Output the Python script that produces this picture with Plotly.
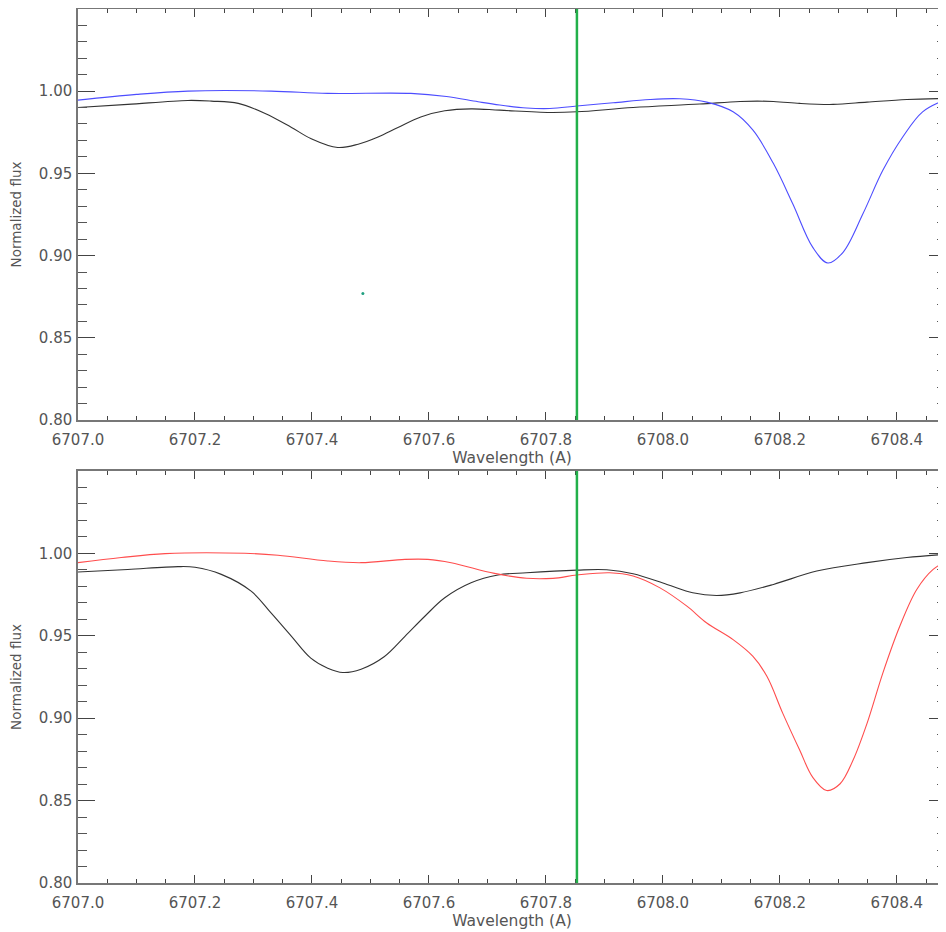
import plotly.graph_objects as go

# ---- data ----
wl_top_black = [6707.0, 6707.085, 6707.188, 6707.228, 6707.274, 6707.32, 6707.365, 6707.398,
                6707.444, 6707.479, 6707.513, 6707.547, 6707.586, 6707.627, 6707.672, 6707.721,
                6707.807, 6707.853, 6707.949, 6708.063, 6708.132, 6708.189, 6708.234, 6708.291,
                6708.349, 6708.417, 6708.484]
flux_top_black = [0.990, 0.9919, 0.9943, 0.9939, 0.9925, 0.9864, 0.9779, 0.9712,
                  0.9657, 0.9677, 0.9721, 0.9779, 0.9843, 0.988, 0.9892, 0.9884,
                  0.987, 0.9874, 0.990, 0.9921, 0.9937, 0.9937, 0.9925, 0.9919,
                  0.9933, 0.9949, 0.9955]

wl_top_blue = [6707.0, 6707.1, 6707.188, 6707.33, 6707.427, 6707.569, 6707.63, 6707.684, 6707.721,
               6707.767, 6707.807, 6707.853, 6707.915, 6707.978, 6708.029, 6708.075, 6708.12,
               6708.154, 6708.189, 6708.222, 6708.256, 6708.282, 6708.308, 6708.342, 6708.376,
               6708.41, 6708.444, 6708.484]
flux_top_blue = [0.9945, 0.9980, 1.000, 1.000, 0.9986, 0.9986, 0.9967, 0.9935, 0.9915,
                 0.9897, 0.9894, 0.9909, 0.9929, 0.9949, 0.9953, 0.9933, 0.9874,
                 0.9762, 0.9559, 0.9315, 0.9051, 0.8955, 0.902, 0.9254, 0.9518,
                 0.9721, 0.9874, 0.9949]

wl_bot_black = [6707.0, 6707.085, 6707.171, 6707.2, 6707.245, 6707.296, 6707.33, 6707.365,
                6707.398, 6707.427, 6707.453, 6707.484, 6707.524, 6707.559, 6707.593, 6707.627,
                6707.672, 6707.718, 6707.767, 6707.853, 6707.904, 6707.949, 6708.007, 6708.051,
                6708.092, 6708.132, 6708.189, 6708.263, 6708.349, 6708.417, 6708.484]
flux_bot_black = [0.9886, 0.9902, 0.9919, 0.9915, 0.9872, 0.977, 0.9638, 0.9496,
                  0.9364, 0.9303, 0.9277, 0.9297, 0.9374, 0.9496, 0.9618, 0.973,
                  0.9821, 0.9868, 0.9882, 0.9898, 0.990, 0.9876, 0.9811, 0.976,
                  0.9744, 0.976, 0.9811, 0.9892, 0.9943, 0.9974, 0.9994]

wl_bot_red = [6707.0, 6707.074, 6707.149, 6707.285, 6707.342, 6707.427, 6707.484, 6707.559,
              6707.598, 6707.638, 6707.712, 6707.767, 6707.812, 6707.853, 6707.909, 6707.949,
              6707.995, 6708.041, 6708.075, 6708.12, 6708.154, 6708.178, 6708.205, 6708.234,
              6708.256, 6708.28, 6708.303, 6708.325, 6708.349, 6708.376, 6708.405, 6708.434,
              6708.462, 6708.484]
flux_bot_red = [0.9943, 0.9974, 0.9998, 1.000, 0.9988, 0.9953, 0.9943, 0.9963,
                0.9963, 0.9943, 0.9878, 0.9848, 0.9848, 0.9868, 0.9882, 0.9862,
                0.979, 0.9679, 0.9577, 0.9476, 0.9374, 0.9252, 0.9029, 0.8805,
                0.8642, 0.8561, 0.8602, 0.8744, 0.8968, 0.9273, 0.9557, 0.978,
                0.9902, 0.9949]

li_wavelength = 6707.853
stray_point = (6707.487, 0.877)

x_range = [6707.0, 6708.484]
y_range = [0.80, 1.0499]

# ---- figure ----
fig = go.Figure()
line_common = dict(width=1.1, shape="spline", smoothing=1.0)
fig.add_trace(go.Scatter(x=wl_top_black, y=flux_top_black, mode="lines",
                         line=dict(line_common, color="#333333"), xaxis="x", yaxis="y"))
fig.add_trace(go.Scatter(x=wl_top_blue, y=flux_top_blue, mode="lines",
                         line=dict(line_common, color="#4d4dff"), xaxis="x", yaxis="y"))
fig.add_trace(go.Scatter(x=[stray_point[0]], y=[stray_point[1]], mode="markers",
                         marker=dict(color="#20a080", size=3), xaxis="x", yaxis="y"))
fig.add_trace(go.Scatter(x=wl_bot_black, y=flux_bot_black, mode="lines",
                         line=dict(line_common, color="#333333"), xaxis="x2", yaxis="y2"))
fig.add_trace(go.Scatter(x=wl_bot_red, y=flux_bot_red, mode="lines",
                         line=dict(line_common, color="#ff4d4d"), xaxis="x2", yaxis="y2"))

for xr, yr in (("x", "y"), ("x2", "y2")):
    fig.add_shape(type="line", xref=xr, yref=yr + " domain", x0=li_wavelength, x1=li_wavelength,
                  y0=0, y1=1, line=dict(color="#22b04a", width=2.5))

font = dict(family="DejaVu Sans", size=15, color="#555555")
xcommon = dict(range=x_range, dtick=0.2, tick0=6707.0, tickformat=".1f", ticks="inside",
               ticklen=8, tickcolor="#444444", tickwidth=1, mirror="allticks",
               showline=True, linecolor="#777777", linewidth=1.5, showgrid=False, zeroline=False,
               minor=dict(dtick=0.05, tick0=6707.0, ticks="inside", ticklen=4, tickcolor="#444444",
                          showgrid=False),
               automargin=False, ticklabelstandoff=5,
               tickfont=font,
               title=dict(text="Wavelength (A)", font=dict(family="DejaVu Sans", size=15.5, color="#555555"),
                          standoff=4))
ycommon = dict(range=y_range, dtick=0.05, tick0=0.8, tickformat=".2f", ticks="inside",
               ticklen=17, tickcolor="#444444", tickwidth=1, mirror="allticks",
               showline=True, linecolor="#777777", linewidth=1.5, showgrid=False, zeroline=False,
               minor=dict(dtick=0.01, tick0=0.8, ticks="inside", ticklen=9, tickcolor="#555555",
                          showgrid=False),
               automargin=False, ticklabelstandoff=1,
               tickfont=font,
               title=dict(text="Normalized flux", font=dict(family="DejaVu Sans", size=13.5, color="#555555"),
                          standoff=14))

fig.update_layout(
    width=938, height=924,
    margin=dict(l=70, r=0, t=1, b=49),
    paper_bgcolor="white", plot_bgcolor="white",
    showlegend=False,
    xaxis=dict(xcommon, anchor="y", domain=[0, 1]),
    yaxis=dict(ycommon, anchor="x", domain=[0.5297, 1]),
    xaxis2=dict(xcommon, anchor="y2", domain=[0, 1]),
    yaxis2=dict(ycommon, anchor="x2", domain=[0, 0.4714]),
)

fig.write_html("out.html")
